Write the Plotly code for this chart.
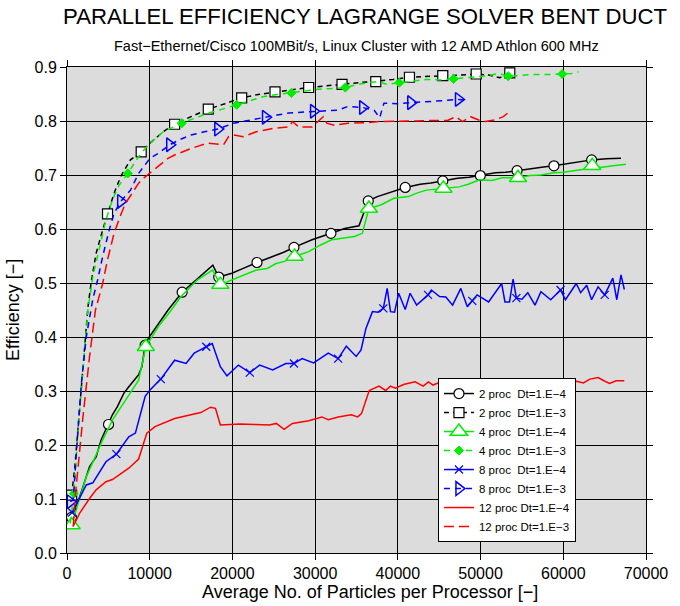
import plotly.graph_objects as go

# ---------------- data ----------------
# 2 proc Dt=1.E-4
p2_e4_x = [540, 1540, 2730, 3520, 4110, 5020, 5490, 6090, 6880, 7470, 8660, 9050, 9450, 9850, 10640, 12220,
           13920, 15500, 17630, 18340, 19340, 19930, 21310, 22970, 24870, 26200, 27440, 29620, 31910, 33570,
           35300, 36420, 37520, 39200, 40890, 42700, 44000, 45430, 47200, 48600, 49970, 51800, 53000, 54410,
           56300, 57600, 58870, 60800, 62100, 63430, 65200, 66980]
p2_e4_y = [0.066, 0.104, 0.160, 0.178, 0.209, 0.238, 0.256, 0.271, 0.296, 0.308, 0.330, 0.345, 0.385, 0.398,
           0.416, 0.450, 0.483, 0.505, 0.533, 0.511, 0.515, 0.518, 0.527, 0.538, 0.549, 0.557, 0.566, 0.580,
           0.592, 0.601, 0.606, 0.652, 0.660, 0.668, 0.677, 0.683, 0.685, 0.689, 0.694, 0.696, 0.699, 0.704,
           0.705, 0.708, 0.713, 0.715, 0.717, 0.722, 0.724, 0.728, 0.730, 0.731]
p2_e4_mk = [0, 5, 12, 16, 19, 23, 26, 28, 31, 34, 37, 40, 43, 46, 49]

# 4 proc Dt=1.E-4
p4_e4_x = [560, 2330, 4310, 5490, 7080, 8660, 9530, 11030, 12610, 13800, 15780, 17600, 18540, 19340, 20910,
           22890, 24200, 25270, 26300, 27520, 29220, 30600, 31990, 33200, 34760, 35700, 36500, 38000, 39500,
           41300, 42200, 43450, 45510, 47410, 48500, 49900, 51360, 52600, 54530, 56000, 57300, 58870, 60000,
           61250, 62300, 63500, 64500, 66000, 67580]
p4_e4_y = [0.052, 0.141, 0.209, 0.246, 0.283, 0.320, 0.382, 0.419, 0.450, 0.475, 0.506, 0.524, 0.497, 0.502,
           0.512, 0.524, 0.527, 0.536, 0.540, 0.549, 0.558, 0.570, 0.580, 0.583, 0.586, 0.592, 0.638, 0.645,
           0.657, 0.660, 0.666, 0.672, 0.675, 0.678, 0.683, 0.691, 0.690, 0.695, 0.695, 0.699, 0.700, 0.704,
           0.705, 0.708, 0.710, 0.717, 0.714, 0.717, 0.720]
p4_e4_mk = [0, 6, 12, 19, 26, 32, 38, 45]

# 8 proc Dt=1.E-4
p8_e4_x = [620, 1540, 2330, 3120, 4710, 5970, 7470, 8270, 9450, 10040, 11340, 13010, 14390, 15380, 16840,
           17560, 18540, 19340, 20720, 22100, 23290, 24870, 26450, 27440, 28430, 29810, 31590, 32780, 33770,
           34960, 35550, 36140, 36930, 37600, 38240, 38710, 39110, 39600, 40100, 40890, 41480, 42270, 43650,
           44050, 45040, 45800, 46620, 47610, 48400, 49000, 49580, 50970, 52550, 52950, 53500, 53930, 54330,
           55000, 55710, 56580, 57300, 58480, 59670, 60260, 61570, 62100, 62830, 63420, 64210, 65010, 65990,
           66470, 66980, 67380]
p8_e4_y = [0.075, 0.104, 0.126, 0.130, 0.169, 0.183, 0.215, 0.222, 0.290, 0.302, 0.322, 0.357, 0.351, 0.370,
           0.382, 0.388, 0.345, 0.328, 0.348, 0.334, 0.348, 0.339, 0.351, 0.351, 0.360, 0.352, 0.370, 0.360,
           0.383, 0.364, 0.376, 0.416, 0.447, 0.446, 0.453, 0.490, 0.447, 0.446, 0.481, 0.451, 0.481, 0.459,
           0.478, 0.487, 0.475, 0.474, 0.459, 0.490, 0.456, 0.467, 0.478, 0.465, 0.499, 0.465, 0.465, 0.507,
           0.472, 0.470, 0.482, 0.459, 0.484, 0.469, 0.487, 0.469, 0.499, 0.482, 0.496, 0.469, 0.493, 0.478,
           0.509, 0.469, 0.515, 0.488]
p8_e4_mk = [0, 5, 10, 14, 19, 23, 27, 34, 42, 49, 56, 62, 69]

# 12 proc Dt=1.E-4
p12_e4_x = [750, 1540, 2730, 3520, 4710, 5490, 7470, 8660, 9650, 10640, 13010, 14990, 16170, 17360, 17950,
            18540, 20910, 22700, 24470, 25300, 26250, 27250, 29220, 30810, 31600, 32780, 34360, 35150, 35600,
            36540, 37720, 38520, 39100, 39700, 40690, 42080, 43060, 43700, 44250, 45230, 46030, 47200, 48400,
            48900, 49980, 51160, 51760, 52800, 53940, 55100, 56310, 57090, 58480, 59870, 60860, 61600, 62430,
            63230, 64210, 64900, 65600, 66390, 67380]
p12_e4_y = [0.049, 0.074, 0.101, 0.117, 0.132, 0.136, 0.157, 0.174, 0.222, 0.234, 0.249, 0.256, 0.260, 0.270,
            0.268, 0.237, 0.239, 0.238, 0.237, 0.240, 0.229, 0.240, 0.245, 0.252, 0.247, 0.252, 0.256, 0.252,
            0.258, 0.301, 0.309, 0.301, 0.309, 0.305, 0.312, 0.317, 0.309, 0.317, 0.311, 0.317, 0.308, 0.311,
            0.315, 0.309, 0.313, 0.309, 0.317, 0.317, 0.322, 0.315, 0.309, 0.320, 0.313, 0.311, 0.317, 0.318,
            0.315, 0.322, 0.325, 0.319, 0.314, 0.319, 0.319]
p12_e4_mk = []

# 2 proc Dt=1.E-3
p2_e3_x = [560, 950, 1540, 2140, 2530, 2930, 3520, 4310, 4900, 5690, 6490, 7670, 8970, 10040, 11630, 13010,
           15000, 17080, 19100, 21120, 23100, 25150, 27200, 29220, 31200, 33250, 35300, 37330, 39400, 41400,
           43400, 45430, 47400, 49470, 51000, 52300, 53530, 53900]
p2_e3_y = [0.107, 0.160, 0.270, 0.390, 0.455, 0.502, 0.555, 0.598, 0.628, 0.666, 0.697, 0.728, 0.743, 0.759,
           0.780, 0.794, 0.808, 0.822, 0.832, 0.843, 0.849, 0.854, 0.858, 0.862, 0.865, 0.868, 0.870, 0.873,
           0.877, 0.881, 0.882, 0.884, 0.885, 0.887, 0.885, 0.880, 0.889, 0.891]
p2_e3_mk = [0, 8, 12, 15, 17, 19, 21, 23, 25, 27, 29, 31, 33, 36]

# 4 proc Dt=1.E-3
p4_e3_x = [400, 820, 1500, 2100, 2530, 3120, 3910, 4710, 5490, 6290, 7350, 8660, 9850, 11630, 13880, 15400,
           16960, 18800, 20520, 22000, 23690, 25400, 27130, 28800, 30410, 32000, 33650, 35550, 37520, 38700,
           40180, 41800, 43450, 45100, 46740, 48200, 49780, 51000, 52160, 53340, 54700, 56110, 58000, 59870,
           61000, 61840]
p4_e3_y = [0.055, 0.110, 0.260, 0.380, 0.450, 0.512, 0.567, 0.617, 0.654, 0.681, 0.703, 0.734, 0.756, 0.780,
           0.796, 0.805, 0.814, 0.822, 0.830, 0.838, 0.845, 0.849, 0.852, 0.855, 0.859, 0.860, 0.862, 0.869,
           0.873, 0.868, 0.871, 0.874, 0.877, 0.876, 0.878, 0.880, 0.883, 0.884, 0.888, 0.883, 0.884, 0.886,
           0.886, 0.887, 0.888, 0.891]
p4_e3_mk = [1, 10, 14, 18, 22, 26, 30, 34, 39, 43]

# 8 proc Dt=1.E-3
p8_e3_x = [400, 750, 1150, 1740, 2330, 3120, 3710, 4310, 5100, 5690, 6490, 7670, 8660, 10040, 11030, 12420,
           13700, 14990, 16600, 18230, 20130, 22100, 24000, 25400, 26850, 28300, 29810, 31300, 32780, 33960,
           35750, 37130, 37800, 38320, 40000, 41560, 43000, 44250, 45800, 47330, 48000]
p8_e3_y = [0.095, 0.098, 0.190, 0.314, 0.400, 0.470, 0.506, 0.549, 0.598, 0.629, 0.651, 0.672, 0.703, 0.731,
           0.740, 0.756, 0.766, 0.774, 0.780, 0.785, 0.796, 0.802, 0.807, 0.811, 0.815, 0.816, 0.818, 0.819,
           0.820, 0.827, 0.825, 0.820, 0.806, 0.833, 0.832, 0.834, 0.835, 0.836, 0.838, 0.840, 0.839]
p8_e3_mk = [0, 10, 15, 19, 22, 26, 30, 35, 39]

# 12 proc Dt=1.E-3
p12_e3_x = [750, 950, 1930, 2730, 3440, 4310, 4900, 5690, 6490, 7080, 7870, 8660, 9250, 10040, 11030, 12220,
            13010, 14990, 16960, 18940, 19530, 20130, 21310, 22890, 24870, 26850, 27250, 28030, 29620, 30990,
            31400, 32380, 33960, 36330, 37720, 38300, 40300, 42300, 44250, 46000, 47010, 47810, 48790, 49780,
            50570, 51760, 52750, 53540]
p12_e3_y = [0.049, 0.098, 0.252, 0.364, 0.450, 0.499, 0.543, 0.592, 0.626, 0.648, 0.666, 0.685, 0.694, 0.704,
            0.715, 0.731, 0.737, 0.749, 0.759, 0.756, 0.771, 0.774, 0.771, 0.780, 0.786, 0.789, 0.799, 0.789,
            0.789, 0.808, 0.796, 0.792, 0.796, 0.797, 0.799, 0.799, 0.799, 0.800, 0.801, 0.801, 0.808, 0.799,
            0.808, 0.802, 0.799, 0.802, 0.808, 0.818]
p12_e3_mk = []

labels = ["2 proc\u00a0 Dt=1.E\u22124", "2 proc\u00a0 Dt=1.E\u22123",
          "4 proc\u00a0 Dt=1.E\u22124", "4 proc\u00a0 Dt=1.E\u22123",
          "8 proc\u00a0 Dt=1.E\u22124", "8 proc\u00a0 Dt=1.E\u22123",
          "12 proc Dt=1.E\u22124", "12 proc Dt=1.E\u22123"]

x_ticks = [0, 10000, 20000, 30000, 40000, 50000, 60000, 70000]
y_ticks = [0.0, 0.1, 0.2, 0.3, 0.4, 0.5, 0.6, 0.7, 0.8, 0.9]

# ---------------- styles ----------------
GREEN = "#00ee00"
series = [
    (p2_e4_x, p2_e4_y, p2_e4_mk, labels[0], dict(color="black", dash="solid"),
     dict(symbol="circle", size=10, color="white", line=dict(color="black", width=1.2))),
    (p2_e3_x, p2_e3_y, p2_e3_mk, labels[1], dict(color="black", dash="5px,4px"),
     dict(symbol="square", size=10, color="white", line=dict(color="black", width=1.2))),
    (p4_e4_x, p4_e4_y, p4_e4_mk, labels[2], dict(color=GREEN, dash="solid"),
     dict(symbol="triangle-up", size=15, color="white", line=dict(color=GREEN, width=1.5))),
    (p4_e3_x, p4_e3_y, p4_e3_mk, labels[3], dict(color=GREEN, dash="6px,5px"),
     dict(symbol="diamond", size=7, color=GREEN, line=dict(color=GREEN, width=1))),
    (p8_e4_x, p8_e4_y, p8_e4_mk, labels[4], dict(color="blue", dash="solid"),
     dict(symbol="x-thin", size=8, color="blue", line=dict(color="blue", width=1.2))),
    (p8_e3_x, p8_e3_y, p8_e3_mk, labels[5], dict(color="blue", dash="6px,5px"),
     dict(symbol="triangle-right-open", size=12, color="blue", line=dict(color="blue", width=1.5))),
    (p12_e4_x, p12_e4_y, p12_e4_mk, labels[6], dict(color="red", dash="solid"), None),
    (p12_e3_x, p12_e3_y, p12_e3_mk, labels[7], dict(color="red", dash="10px,5px"), None),
]

FONT = "Liberation Sans, Arial, Helvetica, sans-serif"
fig = go.Figure()

for i, (xs, ys, mk, name, ln, mkstyle) in enumerate(series):
    line = dict(width=1.5, **ln)
    fig.add_trace(go.Scatter(x=xs, y=ys, mode="lines", line=line, showlegend=False,
                             legendgroup=name, hoverinfo="skip"))
    if mkstyle is not None and mk:
        fig.add_trace(go.Scatter(x=[xs[k] for k in mk], y=[ys[k] for k in mk], mode="markers",
                                 marker=mkstyle, showlegend=False, legendgroup=name, hoverinfo="skip"))

for i, (xs, ys, mk, name, ln, mkstyle) in enumerate(series):
    line = dict(width=1.5, **ln)
    if mkstyle is not None:
        fig.add_trace(go.Scatter(x=[None], y=[None], mode="lines+markers", line=line, marker=mkstyle,
                                 name=name, legendgroup=name))
    else:
        fig.add_trace(go.Scatter(x=[None], y=[None], mode="lines", line=line, name=name, legendgroup=name))

axis_common = dict(showgrid=True, gridcolor="black", gridwidth=1.2, ticks="outside", ticklen=6,
                   tickcolor="black", tickwidth=1, showline=True, linecolor="black", linewidth=1,
                   mirror="ticks", zeroline=False, tickfont=dict(size=16, color="black", family=FONT))

fig.update_layout(
    width=680, height=606,
    margin=dict(l=67, r=23, t=67, b=53),
    paper_bgcolor="white", plot_bgcolor="#dcdcdc",
    font=dict(family=FONT, color="black"),
    xaxis=dict(range=[0, 70000], tickvals=x_ticks, ticktext=[str(v) for v in x_ticks], **axis_common),
    yaxis=dict(range=[0, 0.9], tickvals=y_ticks, ticktext=[f"{v:.1f}" for v in y_ticks], **axis_common),
    legend=dict(x=0.6407, y=0.36, xanchor="left", yanchor="top", bgcolor="white",
                bordercolor="black", borderwidth=1, font=dict(size=11.5, family=FONT, color="black"),
                tracegroupgap=0, itemwidth=30),
    annotations=[
        dict(text="PARALLEL EFFICIENCY LAGRANGE SOLVER BENT DUCT", x=0.515, y=1.103, xref="paper",
             yref="paper", showarrow=False, font=dict(size=22.2, family=FONT), xanchor="center", yanchor="middle"),
        dict(text="Fast\u2212Ethernet/Cisco 100MBit/s, Linux Cluster with 12 AMD Athlon 600 MHz", x=0.5,
             y=1.043, xref="paper", yref="paper", showarrow=False, font=dict(size=14.5, family=FONT),
             xanchor="center", yanchor="middle"),
        dict(text="Average No. of Particles per Processor [\u2212]", x=0.523, y=-0.080, xref="paper",
             yref="paper", showarrow=False, font=dict(size=18, family=FONT), xanchor="center", yanchor="middle"),
        dict(text="Efficiency [\u2212]", x=-0.0932, y=0.5, xref="paper", yref="paper", showarrow=False,
             textangle=-90, font=dict(size=18, family=FONT), xanchor="center", yanchor="middle"),
    ],
)

fig.write_html("out.html")
